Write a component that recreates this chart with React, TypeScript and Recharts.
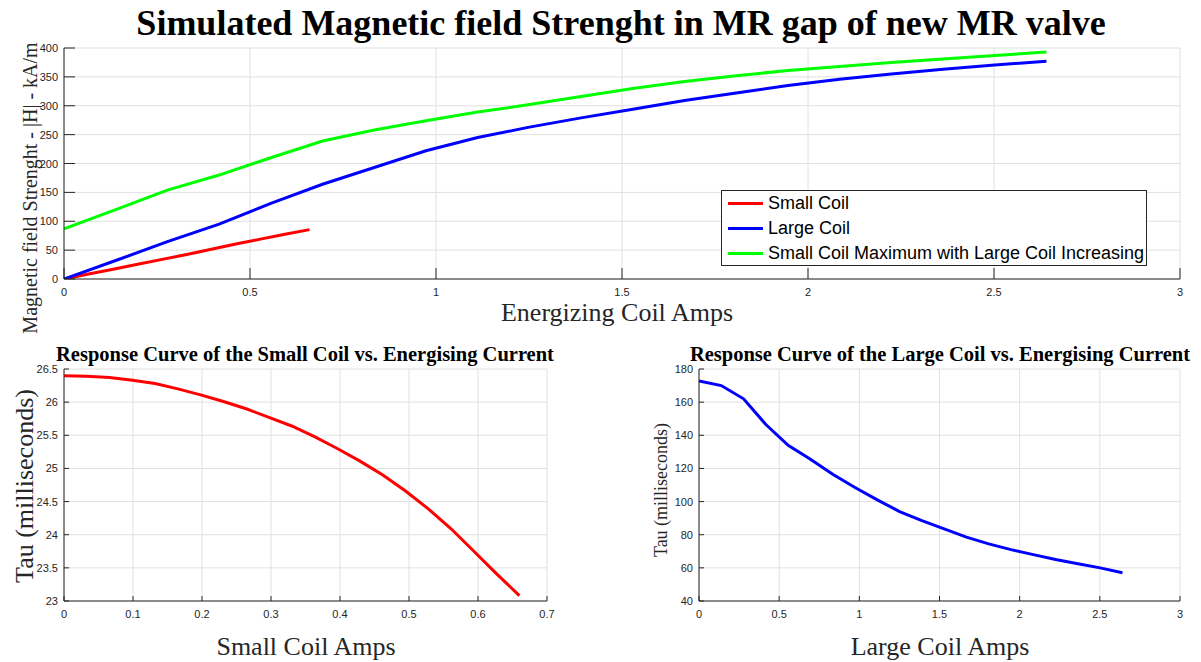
import React from 'react';
import {
	LineChart,
	Line,
	XAxis,
	YAxis,
	CartesianGrid,
	Legend,
} from 'recharts';

// top plot: field strength vs. coil current
const largeAmps = [0, 0.139, 0.278, 0.417, 0.556, 0.695, 0.834, 0.973, 1.112, 1.251, 1.39, 1.529, 1.668, 1.807, 1.946, 2.085, 2.224, 2.363, 2.502, 2.641];
const largeCoilH = [0, 32, 64.6, 95, 131, 164, 193, 222, 245, 263, 279, 294, 309, 322, 335, 346, 355, 363, 370.5, 377];
const comboH = [87, 120, 154, 180, 210, 239, 258, 274, 289, 302, 316, 330, 342, 352, 361, 368, 375, 381, 387, 393];
const smallAmpsTop = [0, 0.066, 0.132, 0.198, 0.264, 0.33, 0.396, 0.462, 0.528, 0.594, 0.66];
const smallCoilH = [0, 8.5, 17, 25.5, 34, 42.5, 51.5, 60.5, 69, 77.5, 85.5];

// bottom left: small coil tau
const smallAmps = [0, 0.033, 0.066, 0.099, 0.132, 0.165, 0.198, 0.231, 0.264, 0.297, 0.33, 0.363, 0.396, 0.429, 0.462, 0.495, 0.528, 0.561, 0.594, 0.627, 0.66];
const smallTau = [26.4, 26.39, 26.37, 26.33, 26.28, 26.2, 26.11, 26.01, 25.9, 25.77, 25.64, 25.48, 25.3, 25.11, 24.9, 24.66, 24.39, 24.09, 23.75, 23.41, 23.08];

// bottom right: large coil tau
const largeTau = [172.8, 170, 162, 146.5, 134, 125.5, 116.5, 108.5, 101, 94, 88.5, 83.5, 78.5, 74.5, 71, 68, 65, 62.5, 60, 57];

const topXTicks = [0, 0.5, 1, 1.5, 2, 2.5, 3];
const topYTicks = [0, 50, 100, 150, 200, 250, 300, 350, 400];
const smallXTicks = [0, 0.1, 0.2, 0.3, 0.4, 0.5, 0.6, 0.7];
const smallYTicks = [23, 23.5, 24, 24.5, 25, 25.5, 26, 26.5];
const largeXTicks = [0, 0.5, 1, 1.5, 2, 2.5, 3];
const largeYTicks = [40, 60, 80, 100, 120, 140, 160, 180];

const legendOrder = ['Small Coil', 'Large Coil', 'Small Coil Maximum with Large Coil Increasing'];

const zip = (xs: number[], ys: number[]) => xs.map((x, i) => ({ x, y: ys[i] }));

const smallTopData = zip(smallAmpsTop, smallCoilH);
const largeTopData = zip(largeAmps, largeCoilH);
const comboTopData = zip(largeAmps, comboH);
const smallTauData = zip(smallAmps, smallTau);
const largeTauData = zip(largeAmps, largeTau);

const AXIS = '#262626';
const GRID = '#e0e0e0';
const sans = '"Liberation Sans", Arial, sans-serif';
const serif = '"Liberation Serif", "Times New Roman", serif';

const TextAt = ({ x, y, size, bold, rotate, children }: any) => (
	<div
		style={{
			position: 'absolute',
			left: x,
			top: y,
			transform: `translate(-50%, -50%)${rotate ? ' rotate(-90deg)' : ''}`,
			fontFamily: serif,
			fontSize: size,
			fontWeight: bold ? 'bold' : 'normal',
			lineHeight: 1,
			whiteSpace: 'nowrap',
			color: bold ? '#000' : AXIS,
		}}
	>
		{children}
	</div>
);

// inward tick marks, with or without a label
const makeTick = (side: 'bottom' | 'top' | 'left' | 'right', len: number, showLabel: boolean) => (props: any) => {
	const { x, y, payload } = props;
	let line;
	if (side === 'bottom') line = <line x1={x} y1={y} x2={x} y2={y - len} stroke={AXIS} />;
	else if (side === 'top') line = <line x1={x} y1={y} x2={x} y2={y + len} stroke={AXIS} />;
	else if (side === 'left') line = <line x1={x} y1={y} x2={x + len} y2={y} stroke={AXIS} />;
	else line = <line x1={x} y1={y} x2={x - len} y2={y} stroke={AXIS} />;
	let label = null;
	if (showLabel && side === 'bottom') {
		label = (
			<text x={x} y={y + 17} textAnchor='middle' fontFamily={sans} fontSize={11} fill={AXIS}>
				{payload.value}
			</text>
		);
	} else if (showLabel && side === 'left') {
		label = (
			<text x={x - 6} y={y + 4} textAnchor='end' fontFamily={sans} fontSize={11} fill={AXIS}>
				{payload.value}
			</text>
		);
	}
	return (
		<g>
			{line}
			{label}
		</g>
	);
};

const renderLegend = (props: any) => {
	const items = [...(props.payload || [])].sort(
		(a: any, b: any) => legendOrder.indexOf(a.value) - legendOrder.indexOf(b.value),
	);
	return (
		<div
			style={{
				width: 426,
				height: 76,
				boxSizing: 'border-box',
				border: `1px solid ${AXIS}`,
				background: '#fff',
			}}
		>
			{items.map((entry: any, idx: number) => (
				<div key={`leg-${idx}`} style={{ display: 'flex', alignItems: 'center', height: 25 }}>
					<div style={{ width: 35, height: 3, marginLeft: 6, background: entry.color }} />
					<span style={{ marginLeft: 5, fontFamily: sans, fontSize: 18, color: '#000' }}>
						{entry.value}
					</span>
				</div>
			))}
		</div>
	);
};

// box axes: ticks pointing inwards on all four sides, like a MATLAB plot
const boxAxes = (xTicks: number[], yTicks: number[], xDomain: number[], yDomain: number[], len: number) => [
	<XAxis
		key='xb'
		type='number'
		dataKey='x'
		domain={xDomain}
		ticks={xTicks}
		allowDataOverflow
		interval={0}
		height={20}
		tickSize={0}
		tickMargin={0}
		tickLine={false}
		tick={makeTick('bottom', len, true)}
		axisLine={{ stroke: AXIS }}
	/>,
	<XAxis
		key='xt'
		xAxisId='top'
		orientation='top'
		type='number'
		dataKey='x'
		domain={xDomain}
		ticks={xTicks}
		allowDataOverflow
		interval={0}
		height={0}
		tickSize={0}
		tickMargin={0}
		tickLine={false}
		tick={makeTick('top', len, false)}
		axisLine={{ stroke: AXIS }}
	/>,
	<YAxis
		key='yl'
		type='number'
		domain={yDomain}
		ticks={yTicks}
		allowDataOverflow
		interval={0}
		width={40}
		tickSize={0}
		tickMargin={0}
		tickLine={false}
		tick={makeTick('left', len, true)}
		axisLine={{ stroke: AXIS }}
	/>,
	<YAxis
		key='yr'
		yAxisId='right'
		orientation='right'
		type='number'
		domain={yDomain}
		ticks={yTicks}
		allowDataOverflow
		interval={0}
		width={0}
		tickSize={0}
		tickMargin={0}
		tickLine={false}
		tick={makeTick('right', len, false)}
		axisLine={{ stroke: AXIS }}
	/>,
];

export default function App() {
	return (
		<div style={{ position: 'absolute', left: 0, top: 0, width: 1201, height: 662, background: '#fff' }}>
			<div style={{ position: 'absolute', left: 0, top: 0 }}>
				<LineChart width={1201} height={300} margin={{ top: 48, right: 21, bottom: 1, left: 24 }}>
					<CartesianGrid stroke={GRID} />
					{boxAxes(topXTicks, topYTicks, [0, 3], [0, 400], 11)}
					<Line data={smallTopData} dataKey='y' name='Small Coil' stroke='#ff0000' strokeWidth={3} dot={false} isAnimationActive={false} />
					<Line data={largeTopData} dataKey='y' name='Large Coil' stroke='#0000ff' strokeWidth={3} dot={false} isAnimationActive={false} />
					<Line data={comboTopData} dataKey='y' name='Small Coil Maximum with Large Coil Increasing' stroke='#00ff00' strokeWidth={3} dot={false} isAnimationActive={false} />
					<Legend
						layout='vertical'
						align='center'
						verticalAlign='middle'
						content={renderLegend}
						wrapperStyle={{ left: 721, top: 190, width: 426, height: 76 }}
					/>
				</LineChart>
			</div>

			<div style={{ position: 'absolute', left: 0, top: 340 }}>
				<LineChart width={560} height={290} margin={{ top: 29, right: 13, bottom: 9, left: 24 }}>
					<CartesianGrid stroke={GRID} />
					{boxAxes(smallXTicks, smallYTicks, [0, 0.7], [23, 26.5], 5)}
					<Line data={smallTauData} dataKey='y' stroke='#ff0000' strokeWidth={3} dot={false} isAnimationActive={false} />
				</LineChart>
			</div>

			<div style={{ position: 'absolute', left: 640, top: 340 }}>
				<LineChart width={561} height={290} margin={{ top: 29, right: 21, bottom: 9, left: 19 }}>
					<CartesianGrid stroke={GRID} />
					{boxAxes(largeXTicks, largeYTicks, [0, 3], [40, 180], 5)}
					<Line data={largeTauData} dataKey='y' stroke='#0000ff' strokeWidth={3} dot={false} isAnimationActive={false} />
				</LineChart>
			</div>

			<TextAt x={621} y={23} size={36} bold>Simulated Magnetic field Strenght in MR gap of new MR valve</TextAt>
			<TextAt x={30} y={188} size={20} rotate>Magnetic field Strenght - |H| - kA/m</TextAt>
			<TextAt x={617} y={313} size={26}>Energizing Coil Amps</TextAt>

			<TextAt x={305} y={354} size={20.5} bold>Response Curve of the Small Coil vs. Energising Current</TextAt>
			<TextAt x={25} y={486} size={26} rotate>Tau (milliseconds)</TextAt>
			<TextAt x={306} y={647} size={26}>Small Coil Amps</TextAt>

			<TextAt x={940} y={354} size={20.5} bold>Response Curve of the Large Coil vs. Energising Current</TextAt>
			<TextAt x={661} y={490} size={18} rotate>Tau (milliseconds)</TextAt>
			<TextAt x={940} y={647} size={26}>Large Coil Amps</TextAt>
		</div>
	);
}
